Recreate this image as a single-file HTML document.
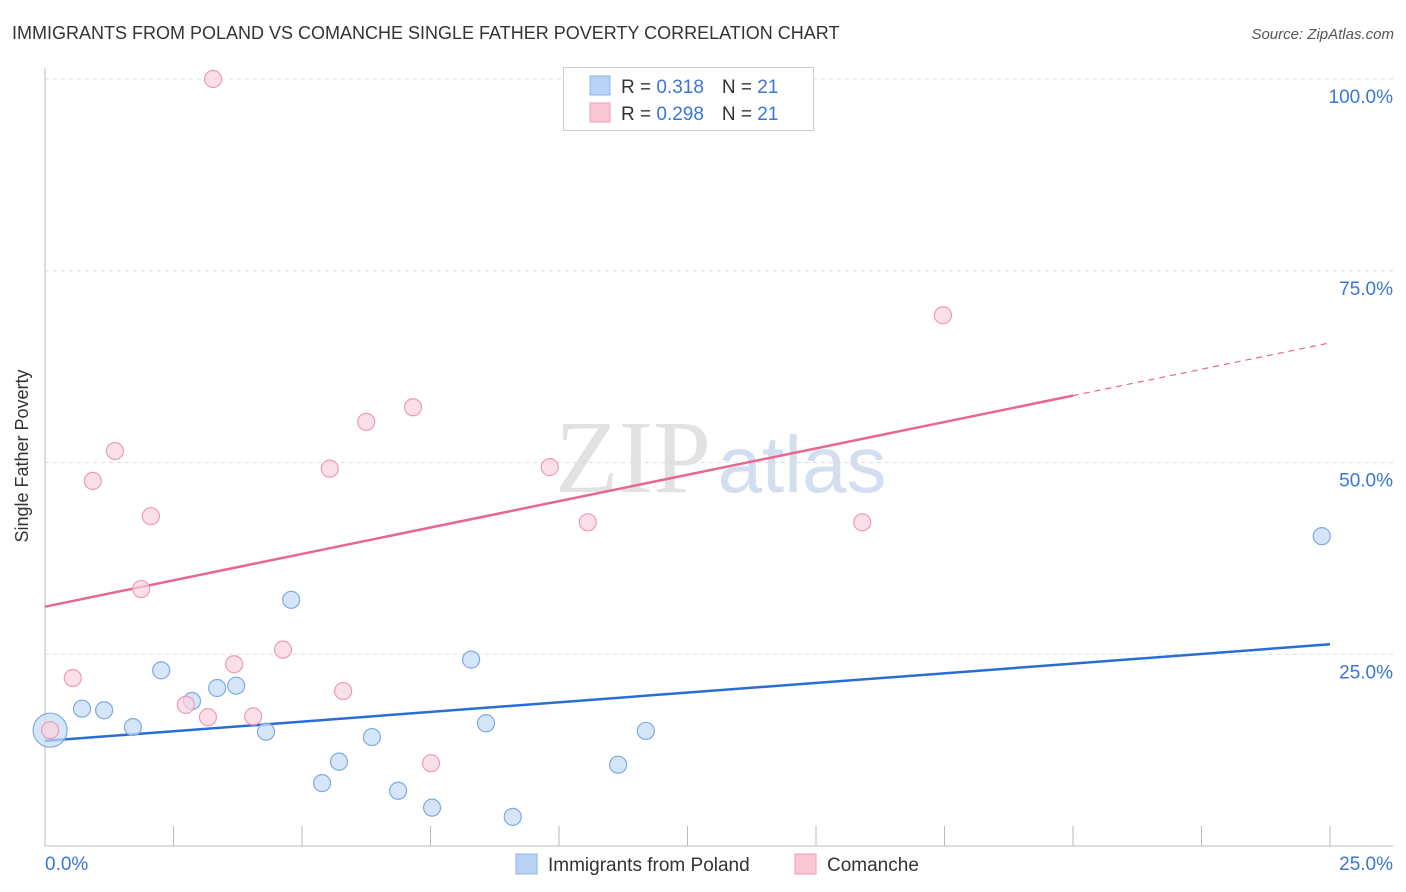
<!DOCTYPE html>
<html><head><meta charset="utf-8"><style>
body{margin:0;background:#fff;font-family:"Liberation Sans",sans-serif;}
svg{display:block}
</style></head><body>
<svg width="1406" height="892" viewBox="0 0 1406 892" id="chart">
<text x="12" y="39" font-size="18" fill="#333">IMMIGRANTS FROM POLAND VS COMANCHE SINGLE FATHER POVERTY CORRELATION CHART</text>
<text x="1394" y="39" font-size="15" fill="#555" text-anchor="end" font-style="italic">Source: ZipAtlas.com</text>
<text x="28" y="456" font-size="18" fill="#333" text-anchor="middle" transform="rotate(-90 28 456)">Single Father Poverty</text>
<g>
<text x="633" y="492" font-size="104" fill="#e2e2e2" text-anchor="middle" font-family="Liberation Serif,serif">ZIP</text>
<text x="802" y="492" font-size="80" fill="#d3def0" text-anchor="middle">atlas</text>
</g>
<g id="grid"></g><g id="axes"></g><g id="trends"></g><g id="points"></g>
<g>
<rect x="563.5" y="67.5" width="250" height="63" fill="#fff" stroke="#ccc"/>
<rect x="590" y="76" width="20" height="19" fill="#b9d3f5" stroke="#8fb3e6"/>
<rect x="590" y="103" width="20" height="19" fill="#f9c8d6" stroke="#ef9db5"/>
<text x="621" y="93" font-size="19" fill="#333">R = <tspan fill="#3b76d6"> 0.318</tspan><tspan dx="18">N = </tspan><tspan fill="#3b76d6">21</tspan></text>
<text x="621" y="120" font-size="19" fill="#333">R = <tspan fill="#3b76d6">0.298</tspan><tspan dx="18">N = </tspan><tspan fill="#3b76d6">21</tspan></text>
</g>
<g>
<rect x="516" y="854" width="21" height="20" fill="#b9d3f5" stroke="#8fb3e6"/>
<text x="548" y="871" font-size="19" fill="#333">Immigrants from Poland</text>
<rect x="795" y="854" width="21" height="20" fill="#f9c8d6" stroke="#ef9db5"/>
<text x="827" y="871" font-size="19" fill="#333">Comanche</text>
</g>
</svg>
<script>
const xTickVals=[0,2.5,5,7.5,10,12.5,15,17.5,20,22.5,25];
const yGridVals=[25,50,75,100];
const yTickLabels=["25.0%","50.0%","75.0%","100.0%"];
const xEndLabels=["0.0%","25.0%"];
const polandX=[0.1,0.72,1.15,1.71,2.26,2.86,3.35,3.72,4.3,4.79,5.39,5.72,6.36,6.87,7.53,8.29,8.58,9.1,11.15,11.69,24.84];
const polandY=[15.1,17.9,17.7,15.5,22.9,18.9,20.6,20.9,14.9,32.1,8.2,11.0,14.2,7.2,5.0,24.3,16.0,3.8,10.6,15.0,40.4];
const comancheX=[0.1,0.54,0.93,1.36,1.87,2.06,2.74,3.17,3.27,3.68,4.05,4.63,5.54,5.8,6.25,7.16,7.51,9.82,10.56,15.9,17.47];
const comancheY=[15.1,21.9,47.6,51.5,33.5,43.0,18.4,16.8,100,23.7,16.9,25.6,49.2,20.2,55.3,57.2,10.8,49.4,42.2,42.2,69.2];
const polandTrend=[13.7,26.3];
const comancheTrend=[31.2,65.6];
const comancheSolidEnd=20;
const X0=45,X1=1330,Y0=846,Y100=79;
const sx=v=>X0+(X1-X0)*v/25, sy=v=>Y0-(Y0-Y100)*v/100;
const NS="http://www.w3.org/2000/svg";
function mk(t,a,p){const e=document.createElementNS(NS,t);for(const k in a)e.setAttribute(k,a[k]);document.getElementById(p).appendChild(e);return e;}
yGridVals.forEach((v,i)=>{
 const l=mk('line',{x1:X0,x2:1393,y1:sy(v),y2:sy(v),stroke:'#ddd','stroke-dasharray':'4 4'},'grid');
 
 
 const t=mk('text',{x:1393,y:sy(v)+24,'font-size':19,fill:'#3b76d6','text-anchor':'end'},'grid');
 t.textContent=yTickLabels[i];
 
 
});
const ax=mk('line',{x1:X0,x2:1393,y1:Y0,y2:Y0,stroke:'#bbb'},'axes');


const ay=mk('line',{x1:X0,x2:X0,y1:68,y2:Y0,stroke:'#bbb'},'axes');


xTickVals.forEach(v=>{
 const t=mk('line',{x1:sx(v),x2:sx(v),y1:826,y2:Y0,stroke:'#bbb'},'axes');
 
 
});
const l0=mk('text',{x:45,y:870,'font-size':19,fill:'#3b76d6'},'axes');l0.textContent=xEndLabels[0];


const l1=mk('text',{x:1393,y:870,'font-size':19,fill:'#3b76d6','text-anchor':'end'},'axes');l1.textContent=xEndLabels[1];


const bt=mk('line',{x1:sx(0),y1:sy(polandTrend[0]),x2:sx(25),y2:sy(polandTrend[1]),stroke:'#2a6dd6','stroke-width':2.5},'trends');


const cAt=x=>comancheTrend[0]+(comancheTrend[1]-comancheTrend[0])*x/25;
const pt=mk('line',{x1:sx(0),y1:sy(cAt(0)),x2:sx(comancheSolidEnd),y2:sy(cAt(comancheSolidEnd)),stroke:'#e8678f','stroke-width':2.5},'trends');


const pd=mk('line',{x1:sx(comancheSolidEnd),y1:sy(cAt(comancheSolidEnd)),x2:sx(25),y2:sy(cAt(25)),stroke:'#e8678f','stroke-width':1.2,'stroke-dasharray':'6 5'},'trends');


function dots(xs,ys,fill,stroke,name){
 xs.forEach((x,i)=>{
  const r=(i===0&&name==='poland')?17:8.5;
  const c=mk('circle',{cx:sx(x),cy:sy(ys[i]),r:r,fill:fill,stroke:stroke,'stroke-width':1.2,'fill-opacity':0.7},'points');
  
  
 });
}
dots(polandX,polandY,'#c5dbf7','#7fa9e3','poland');
dots(comancheX,comancheY,'#fbd3df','#ee9bb5','comanche');
</script>
</body></html>
